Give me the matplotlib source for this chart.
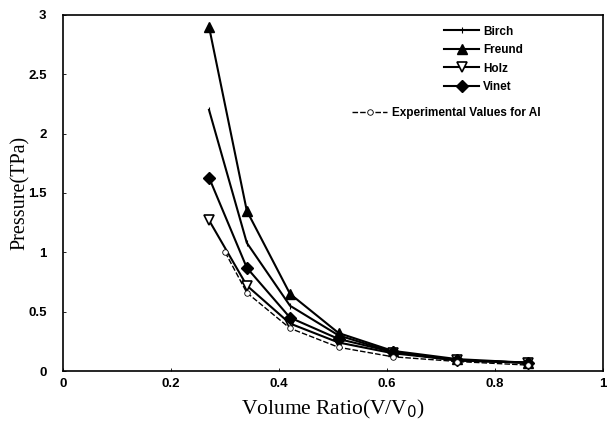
import numpy as np
import matplotlib
matplotlib.use("Agg")
import matplotlib.pyplot as plt

# ---- DATA ----
vol = [0.27, 0.34, 0.42, 0.51, 0.61, 0.73, 0.86]
birch = [2.20, 1.08, 0.55, 0.30, 0.16, 0.09, 0.07]
freund = [2.90, 1.35, 0.65, 0.32, 0.17, 0.10, 0.07]
holz = [1.27, 0.72, 0.40, 0.24, 0.15, 0.09, 0.07]
vinet = [1.63, 0.87, 0.45, 0.27, 0.16, 0.09, 0.07]
vol_exp = [0.30, 0.34, 0.42, 0.51, 0.61, 0.73, 0.86]
p_exp = [1.00, 0.66, 0.36, 0.20, 0.12, 0.08, 0.05]

xticks = [0, 0.2, 0.4, 0.6, 0.8, 1]
xticklabels = ["0", "0.2", "0.4", "0.6", "0.8", "1"]
yticks = [0, 0.5, 1, 1.5, 2, 2.5, 3]
yticklabels = ["0", "0.5", "1", "1.5", "2", "2.5", "3"]

fig = plt.figure(figsize=(6.08, 4.37), dpi=100)
ax = fig.add_axes([0.104, 0.151, 0.888, 0.815])

lw = 1.5
l_b, = ax.plot(vol, birch, color="black", lw=lw, marker="|", ms=5, mew=0.8, label="Birch")
l_f, = ax.plot(vol, freund, color="black", lw=lw, marker="^", ms=7, label="Freund")
l_h, = ax.plot(vol, holz, color="black", lw=lw, marker="v", ms=7,
               mfc="white", mew=1.2, label="Holz")
l_v, = ax.plot(vol, vinet, color="black", lw=lw, marker="D", ms=6.5, label="Vinet")
l_e, = ax.plot(vol_exp, p_exp, color="black", lw=1.0, ls=(0, (4, 1.5)), marker="o", ms=4,
               mfc="white", mec="black", mew=0.6, label="Experimental Values for Al")

ax.set_xlim(0, 1)
ax.set_ylim(0, 3)
ax.set_xticks(xticks)
ax.set_xticklabels(xticklabels, family="Liberation Sans", fontweight="bold", fontsize=9.5)
ax.set_yticks(yticks)
ax.set_yticklabels(yticklabels, family="Liberation Sans", fontweight="bold", fontsize=9.5)
ax.tick_params(direction="in", length=2, width=0.6)
ax.tick_params(axis="x", pad=5)
ax.tick_params(axis="y", pad=12)
for s in ax.spines.values():
    s.set_linewidth(1.2)

ax.set_xlabel("Volume Ratio(V/V$_0$)", family="Liberation Serif", fontsize=15.5, labelpad=6)
ax.set_ylabel("Pressure(TPa)", family="Liberation Serif", fontsize=14.5, labelpad=-1)

lab_font = {"family": "Liberation Sans", "weight": "bold", "size": 8.5}
leg1 = ax.legend(handles=[l_b, l_f, l_h, l_v], loc="upper left", bbox_to_anchor=(0.705, 0.97),
                 frameon=False, prop=lab_font, handlelength=3.0, handletextpad=0.3,
                 labelspacing=0.55, borderpad=0, borderaxespad=0)
ax.add_artist(leg1)
ax.legend(handles=[l_e], loc="upper left", bbox_to_anchor=(0.535, 0.74),
          frameon=False, prop=lab_font, handlelength=3.0, handletextpad=0.4,
          borderpad=0, borderaxespad=0)

fig.savefig("out.png", dpi=100)
